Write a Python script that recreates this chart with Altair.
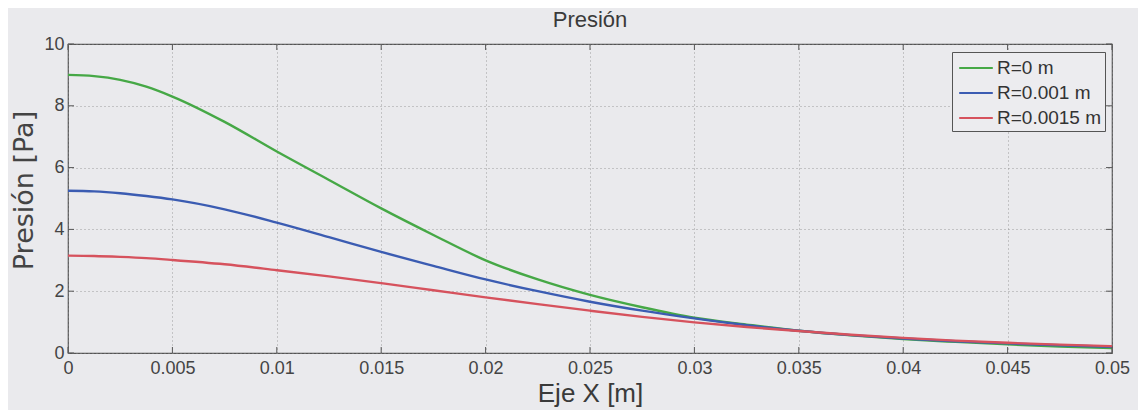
import altair as alt
import pandas as pd

# Data
x_vals = [0, 0.00125, 0.0025, 0.00375, 0.005, 0.0075, 0.01, 0.0125, 0.015, 0.0175, 0.02, 0.0225,
          0.025, 0.0275, 0.03, 0.0325, 0.035, 0.0375, 0.04, 0.0425, 0.045, 0.0475, 0.05]
p_r0 = [9.0, 8.96, 8.84, 8.62, 8.3, 7.48, 6.52, 5.6, 4.68, 3.82, 3.0, 2.38,
        1.88, 1.48, 1.14, 0.92, 0.72, 0.57, 0.45, 0.36, 0.28, 0.21, 0.16]
p_r1 = [5.25, 5.23, 5.17, 5.08, 4.97, 4.65, 4.22, 3.75, 3.27, 2.82, 2.38, 2.0,
        1.66, 1.37, 1.12, 0.9, 0.72, 0.58, 0.47, 0.38, 0.31, 0.25, 0.2]
p_r2 = [3.15, 3.14, 3.11, 3.07, 3.01, 2.87, 2.68, 2.48, 2.26, 2.03, 1.8, 1.58,
        1.37, 1.17, 0.99, 0.84, 0.71, 0.59, 0.49, 0.4, 0.33, 0.27, 0.22]
series_names = ["R=0 m", "R=0.001 m", "R=0.0015 m"]
series_colors = ["#46a846", "#3b5cb2", "#d6525d"]
x_ticks = [0, 0.005, 0.01, 0.015, 0.02, 0.025, 0.03, 0.035, 0.04, 0.045, 0.05]
y_ticks = [0, 2, 4, 6, 8, 10]

rows = []
for name, vals in zip(series_names, [p_r0, p_r1, p_r2]):
    for xv, yv in zip(x_vals, vals):
        rows.append({"x": xv, "p": yv, "serie": name})
df = pd.DataFrame(rows)

W, H = 1044, 309
font = "Liberation Sans"

xscale = alt.Scale(domain=[0, 0.05], nice=False, zero=False)
yscale = alt.Scale(domain=[0, 10], nice=False)

lines = alt.Chart(df).mark_line(strokeWidth=2.4, interpolate="monotone").encode(
    x=alt.X("x:Q", scale=xscale,
            axis=alt.Axis(values=x_ticks, format="~g", title="Eje X [m]",
                          grid=True, gridDash=[1, 3], gridColor="#8a8a8a", gridOpacity=0.8,
                          tickSize=0, labelPadding=6, labelFontSize=18, labelColor="#444",
                          labelFont=font, titleFont=font, titleFontSize=26,
                          titleFontWeight="normal", titleColor="#3a3a3a", titlePadding=3,
                          domain=False, labelFlush=False)),
    y=alt.Y("p:Q", scale=yscale,
            axis=alt.Axis(values=y_ticks, title="Presión [Pa]",
                          grid=True, gridDash=[1, 3], gridColor="#8a8a8a", gridOpacity=0.8,
                          tickSize=0, labelPadding=4, labelFontSize=18, labelColor="#444",
                          labelFont=font, titleFont="DejaVu Sans", titleFontSize=27,
                          titleFontWeight="normal", titleColor="#444", titlePadding=5,
                          titleY=146, domain=False)),
    color=alt.Color("serie:N",
                    scale=alt.Scale(domain=series_names, range=series_colors),
                    legend=alt.Legend(title=None, orient="none", legendX=884, legendY=8,
                                      symbolType="M-1.4,0L1.4,0", symbolSize=576,
                                      symbolStrokeWidth=2, labelFontSize=19,
                                      labelFont=font, labelColor="#333",
                                      strokeColor="#555", fillColor="#ececef",
                                      padding=3, rowPadding=2, labelOffset=8,
                                      symbolOffset=8)),
)

xt = pd.DataFrame({"x": x_ticks})
yt = pd.DataFrame({"p": y_ticks})
tick_style = dict(color="#555", strokeWidth=1)
x_bottom = alt.Chart(xt).mark_rule(**tick_style).encode(
    x=alt.X("x:Q", scale=xscale), y=alt.value(H), y2=alt.value(H - 6))
x_top = alt.Chart(xt).mark_rule(**tick_style).encode(
    x=alt.X("x:Q", scale=xscale), y=alt.value(0), y2=alt.value(6))
y_left = alt.Chart(yt).mark_rule(**tick_style).encode(
    y=alt.Y("p:Q", scale=yscale), x=alt.value(0), x2=alt.value(6))
y_right = alt.Chart(yt).mark_rule(**tick_style).encode(
    y=alt.Y("p:Q", scale=yscale), x=alt.value(W), x2=alt.value(W - 6))

chart = alt.layer(lines, x_bottom, x_top, y_left, y_right).properties(
    width=W, height=H,
    title=alt.TitleParams("Presión", font=font, fontSize=22, fontWeight="normal",
                          color="#3a3a3a", offset=3, anchor="middle"),
    background="#eaeaed",
    padding={"left": 60, "top": 36, "right": 26, "bottom": 57},
    autosize=alt.AutoSizeParams(type="none"),
).configure_view(stroke="#555", strokeWidth=1.2, fill="#eaeaed")

chart.save("out.html", embed_options={"renderer": "svg", "actions": False})
